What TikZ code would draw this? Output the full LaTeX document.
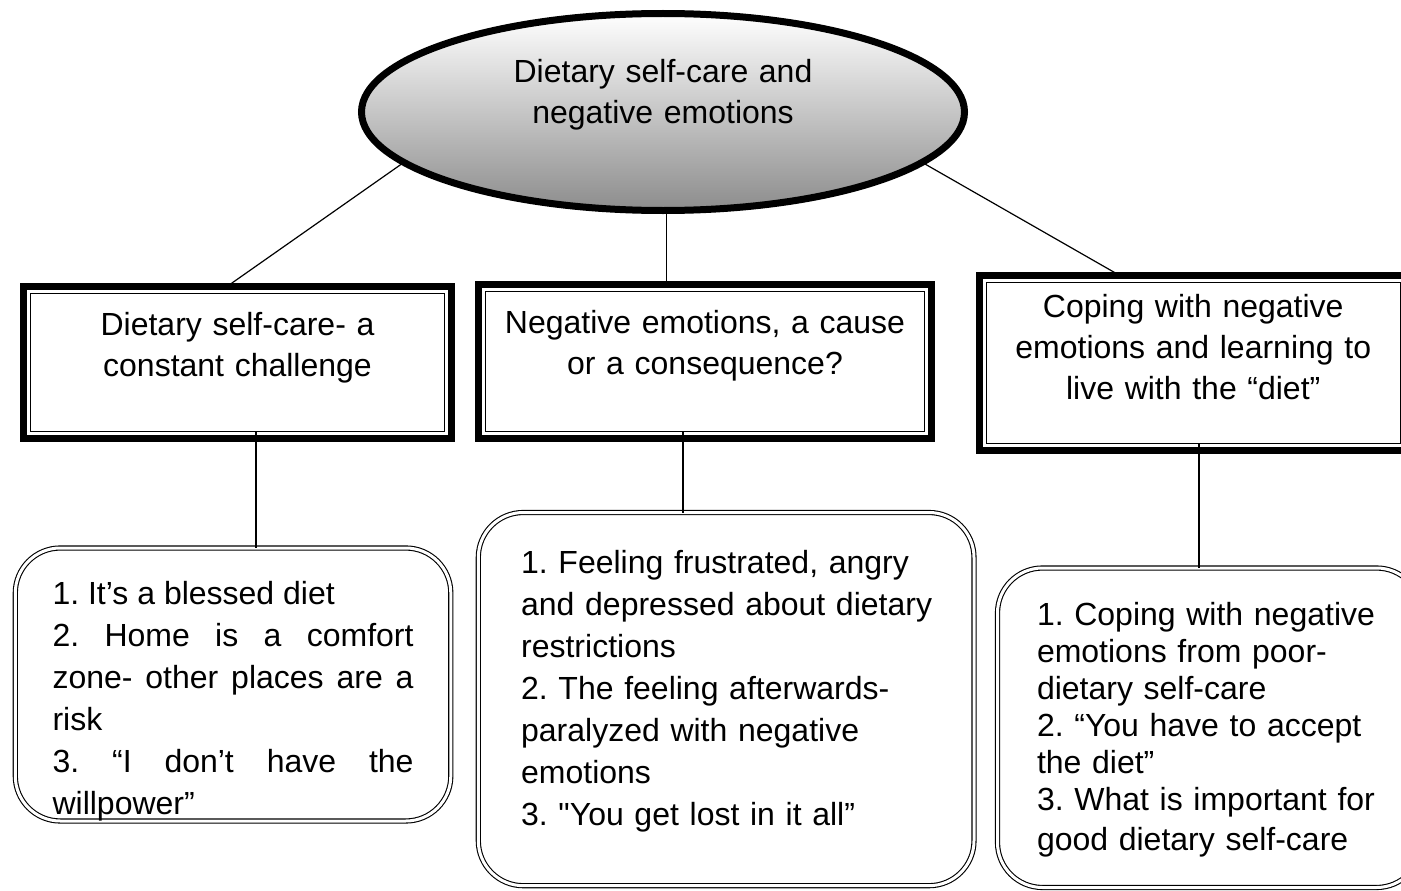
\documentclass[tikz,border=0pt]{standalone}
\usepackage{fontspec}
\setmainfont{Liberation Sans}[Ligatures=TeXOff]
\usetikzlibrary{shapes,calc}
\hyphenpenalty=10000
\frenchspacing

\begin{document}
\begin{tikzpicture}[x=1pt,y=-1pt,
	mainoval/.style={draw, ellipse, line width=7pt, top color=white, bottom color=black!45, minimum width=603pt, minimum height=197pt, inner sep=0pt, outer sep=0pt, text width=320pt, align=center, font=\fontsize{32}{41}\selectfont},
	themebox/.style={draw, line width=7pt, anchor=north west, inner sep=0pt, outer sep=0pt, align=center, font=\fontsize{32}{41}\selectfont},
	listbox/.style={draw, double, double distance=3pt, line width=1.1pt, rounded corners=45pt, anchor=north west, inner ysep=0pt, outer sep=0pt, font=\fontsize{32}{42}\selectfont},
	link/.style={line width=1.2pt}]
				\clip (0,0) rectangle (1401,891);
				\fill[white] (0,0) rectangle (1401,891);
				\node[mainoval, text height=24pt, text depth=82pt] (main) at (663,112) {Dietary self-care and\\negative emotions};
				\node[themebox, text width=428pt, text height=48.5pt, text depth=103.5pt] (theme1) at (23.5,286.5) {Dietary self-care- a\\constant challenge};
				\node[themebox, text width=453pt, text height=48.5pt, text depth=105.5pt] (theme2) at (478.5,284.5) {Negative emotions, a cause\\or a consequence?};
				\node[themebox, text width=427.5pt, text height=41.8pt, text depth=133.5pt] (theme3) at (979.5,275.2) {Coping with negative\\emotions and learning to\\live with the “diet”};
				\foreach \t in {theme1,theme2,theme3}
					\draw[line width=1pt] ([shift={(7pt,-7pt)}]\t.north west) rectangle ([shift={(-7pt,7pt)}]\t.south east);
				\node[listbox, align=justify, text width=361pt, inner xsep=37.25pt, text height=56pt, text depth=217pt] (list1) at (15.3,548) {1. It’s a blessed diet\\2. Home is a comfort\linebreak zone- other places are a\linebreak risk\\3. “I don’t have the\linebreak willpower”};
				\node[listbox, align=left, text width=410pt, inner xsep=42.85pt, text height=60.5pt, text depth=312.7pt] (list2) at (478.3,512.5) {1. Feeling frustrated, angry\\\mbox{and depressed about dietary}\\restrictions\\2. The feeling afterwards-\\paralyzed with negative\\emotions\\3. "You get lost in it all”};
				\node[listbox, align=left, text width=345pt, inner xsep=39.5pt, text height=57pt, text depth=262.5pt, font=\fontsize{32}{37}\selectfont] (list3) at (997.5,568) {1. Coping with negative\\emotions from poor-\\dietary self-care\\2. “You have to accept\\the diet”\\3. What is important for\\[3pt]good dietary self-care};
				\draw[link] (main.191) -- ([xshift=-10.5pt]theme1.north);
				\draw[link] (main.-88) -- (main.-88 |- theme2.north);
				\draw[link] (main.-11) -- ([xshift=-74pt]theme3.north);
				\draw[link] ([shift={(18.5pt,7pt)}]theme1.south) -- ([xshift=18.5pt]theme1.south |- list1.north);
				\draw[link] ([shift={(-22pt,7pt)}]theme2.south) -- ([xshift=-22pt]theme2.south |- list2.north);
				\draw[link] ([shift={(5.75pt,7pt)}]theme3.south) -- ([xshift=5.75pt]theme3.south |- list3.north);
\end{tikzpicture}
\end{document}
